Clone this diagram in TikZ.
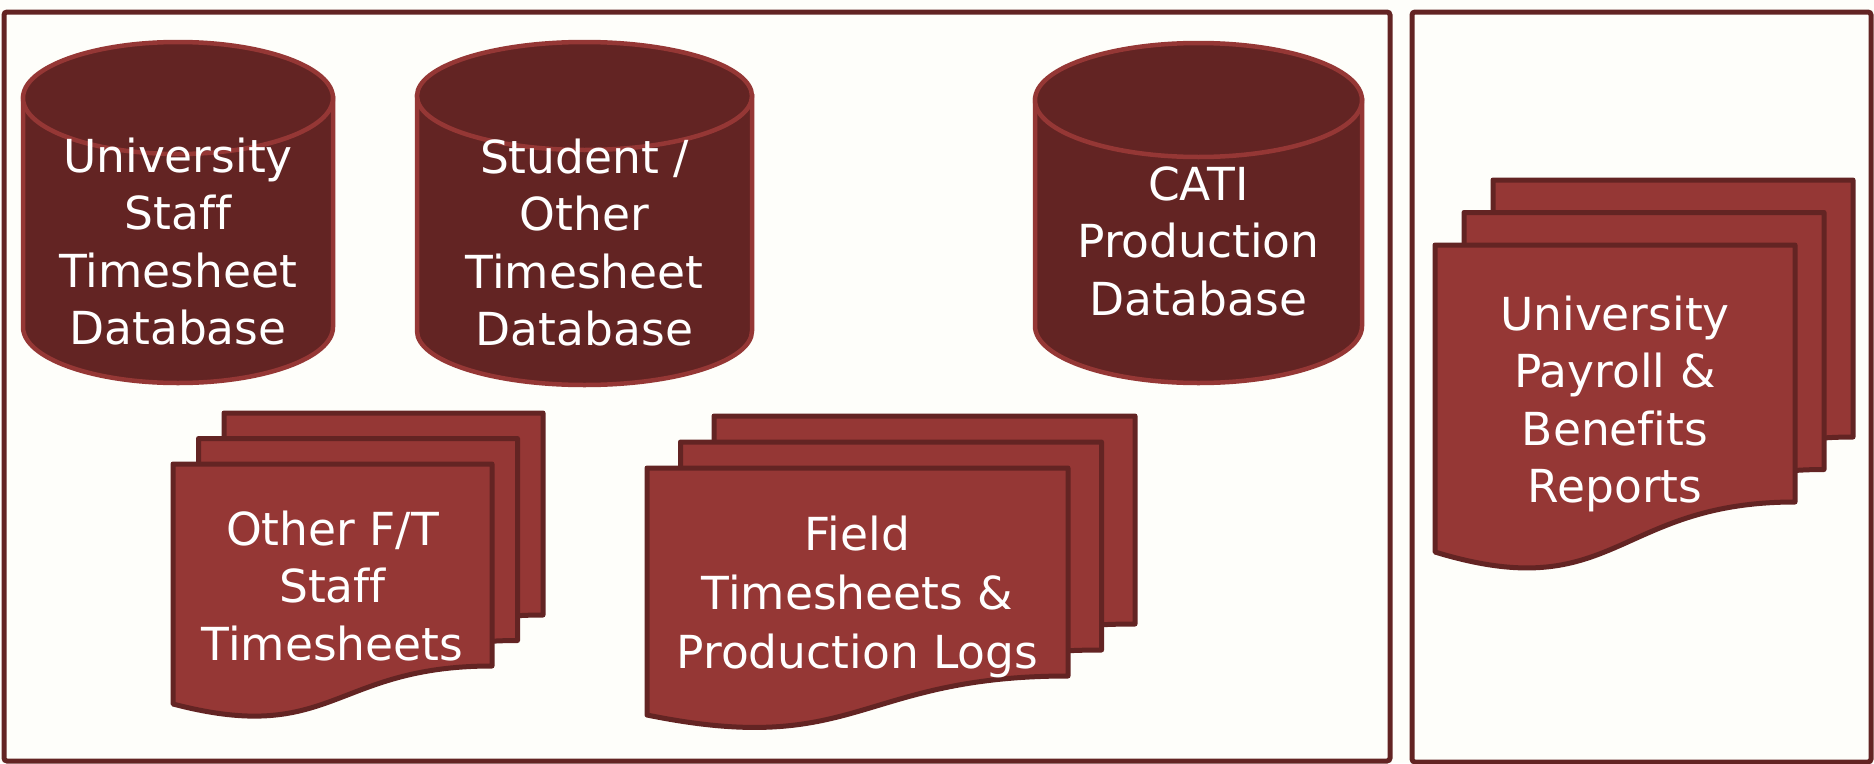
\documentclass[tikz,border=0pt]{standalone}
\usepackage{fontspec}
\setmainfont{DejaVu Sans}[Ligatures=NoCommon]
\definecolor{dbfill}{RGB}{99,36,35}
\definecolor{dbline}{RGB}{149,55,53}
\definecolor{docfill}{RGB}{149,55,53}
\definecolor{docline}{RGB}{99,36,35}
\definecolor{bgcol}{RGB}{254,254,250}
% cylinder: cx, rx, top edge, ry, bottom edge
\newcommand{\mycyl}[5]{%
  \filldraw[dbstyle] (#1-#2,#3+#4) -- (#1-#2,#5-#4)
     arc[start angle=180, end angle=0, x radius=#2, y radius=#4]
     -- (#1+#2,#3+#4) -- cycle;
  \filldraw[dbstyle] (#1,#3+#4) ellipse [x radius=#2, y radius=#4];
}
% document sheet: left, top, width, right height, left extra drop
\newcommand{\mydoc}[5]{%
  \filldraw[docstyle] (#1,#2) -- (#1+#3,#2) -- (#1+#3,#2+#4)
     .. controls (#1+#3/2,#2+#4) and (#1+#3/2,#2+#4+2.1*#5) .. (#1,#2+#4+#5) -- cycle;
}
\begin{document}
\begin{tikzpicture}[x=1pt,y=-1pt,
  dbstyle/.style={fill=dbfill, draw=dbline, line width=4.5pt},
  docstyle/.style={fill=docfill, draw=docline, line width=5pt, line join=round},
  frame/.style={draw=docline, line width=5pt, rounded corners=3pt},
  txt/.style={anchor=base, inner sep=0pt, text=white, font=\fontsize{45.5}{57.5}\selectfont}]
\useasboundingbox (0,0) rectangle (1874,763);
\fill[bgcol] (0,0) rectangle (1874,763);
% frames
\draw[frame] (4,12) rectangle (1390,761);
\draw[frame] (1412,12) rectangle (1871,762);
% cylinders
\mycyl{178}{155}{42}{56}{383}
\mycyl{584.5}{167.5}{42}{54}{385}
\mycyl{1198.5}{163.5}{43}{57}{383}
\node[txt] (c1) at (178,172) {\begin{tabular}[t]{@{}c@{}}University\\Staff\\Timesheet\\Database\end{tabular}};
\node[txt] (c2) at (584.5,173) {\begin{tabular}[t]{@{}c@{}}Student /\\Other\\Timesheet\\Database\end{tabular}};
\node[txt] (c3) at (1198.5,200) {\begin{tabular}[t]{@{}c@{}}CATI\\Production\\Database\end{tabular}};
% document stack 1
\mydoc{224}{413}{319}{202}{38}
\mydoc{198.5}{438.5}{319}{202}{38}
\mydoc{173}{464}{319}{202}{38}
\node[txt] (d1) at (332.5,545) {\begin{tabular}[t]{@{}c@{}}Other F/T\\Staff\\Timesheets\end{tabular}};
% document stack 2
\mydoc{714}{416}{421}{208}{39}
\mydoc{680.5}{442}{421}{208}{39}
\mydoc{647}{468}{421}{208}{39}
\node[txt, font=\fontsize{45.5}{59}\selectfont] (d2) at (857.5,550) {\begin{tabular}[t]{@{}c@{}}Field\\Timesheets \&\\Production Logs\end{tabular}};
% document stack 3
\mydoc{1493}{180}{360}{257}{50}
\mydoc{1464}{212.5}{360}{257}{50}
\mydoc{1435}{245}{360}{257}{50}
\node[txt] (d3) at (1615,330) {\begin{tabular}[t]{@{}c@{}}University\\Payroll \&\\Benefits\\Reports\end{tabular}};
\end{tikzpicture}
\end{document}
